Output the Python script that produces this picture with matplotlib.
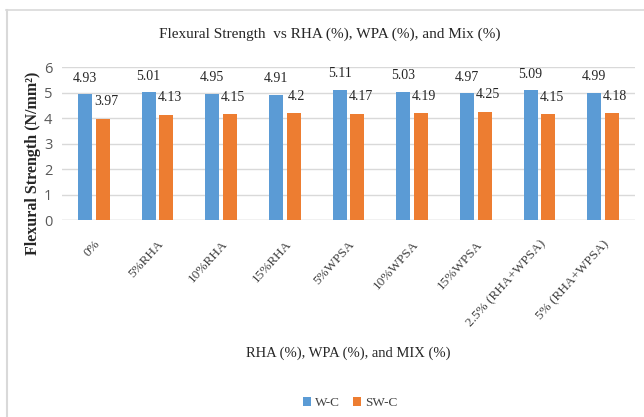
import matplotlib
matplotlib.use("Agg")
import matplotlib.pyplot as plt
import numpy as np
from matplotlib.lines import Line2D

categories = ["0%", "5%RHA", "10%RHA", "15%RHA", "5%WPSA", "10%WPSA",
              "15%WPSA", "2.5% (RHA+WPSA)", "5% (RHA+WPSA)"]
wc = [4.93, 5.01, 4.95, 4.91, 5.11, 5.03, 4.97, 5.09, 4.99]
swc = [3.97, 4.13, 4.15, 4.2, 4.17, 4.19, 4.25, 4.15, 4.18]
yticks = [0, 1, 2, 3, 4, 5, 6]

W, H = 644, 417
fig = plt.figure(figsize=(W / 100, H / 100), dpi=100)

# chart frame (top and left edges only)
fig.add_artist(Line2D([6 / W, 1], [1 - 10 / H, 1 - 10 / H], color="#d9d9d9", lw=1.2))
fig.add_artist(Line2D([6.5 / W, 6.5 / W], [0, 1 - 10 / H], color="#d9d9d9", lw=1.5))

left, right, top, bottom = 62, 635, 67, 220
ax = fig.add_axes([left / W, 1 - bottom / H, (right - left) / W, (bottom - top) / H])

serif = "Liberation Serif"
blue = "#5b9bd5"
orange = "#ed7d31"

x = np.arange(len(categories))
bw = 0.22
gap = 0.06
off = (bw + gap) / 2
b1 = ax.bar(x - off, wc, bw, color=blue, label="W-C", zorder=3)
b2 = ax.bar(x + off, swc, bw, color=orange, label="SW-C", zorder=3)

for xi, v in zip(x, wc):
    ax.text(xi - off, v + 0.63, f"{v:g}", ha="center", va="center",
            fontsize=10, family=serif, color="#262626")
for xi, v in zip(x, swc):
    ax.text(xi + off + 0.05, v + 0.66, f"{v:g}", ha="center", va="center",
            fontsize=10, family=serif, color="#262626")

ax.set_xlim(-0.5, len(categories) - 0.5)
ax.set_ylim(0, 6)
ax.set_yticks(yticks)
ax.yaxis.grid(True, color="#d9d9d9", lw=1, zorder=0)
ax.tick_params(axis="y", length=0, labelsize=10.5, labelcolor="#595959", pad=7)
for lab in ax.get_yticklabels():
    lab.set_family("Open Sans")
ax.set_xticks(x)
ax.set_xticklabels(categories, rotation=48, ha="right", rotation_mode="anchor",
                   family=serif, fontsize=9.5, color="#404040")
ax.tick_params(axis="x", length=0, pad=13)
for s in ax.spines.values():
    s.set_visible(False)
ax.axhline(0, color="#d9d9d9", lw=1, zorder=2)

fig.text(330 / W, 1 - 34 / H, "Flexural Strength  vs RHA (%), WPA (%), and Mix (%)",
         ha="center", va="center", family=serif, fontsize=11, color="#262626")
fig.text(33 / W, 1 - 163 / H, "Flexural Strength (N/mm²)", rotation=90,
         ha="center", va="center", family=serif, fontsize=11.5, fontweight="bold",
         color="#262626")
fig.text(348 / W, 1 - 353 / H, "RHA (%), WPA (%), and MIX (%)",
         ha="center", va="center", family=serif, fontsize=10.5, color="#262626")

leg = fig.legend(handles=[b1, b2], loc="center", bbox_to_anchor=(350 / W, 1 - 403 / H),
                 ncol=2, frameon=False, prop={"family": serif, "size": 9.5},
                 handlelength=0.6, handleheight=0.6, handletextpad=0.3, columnspacing=1.0)
for t in leg.get_texts():
    t.set_color("#404040")

fig.savefig("out.png", dpi=100)
